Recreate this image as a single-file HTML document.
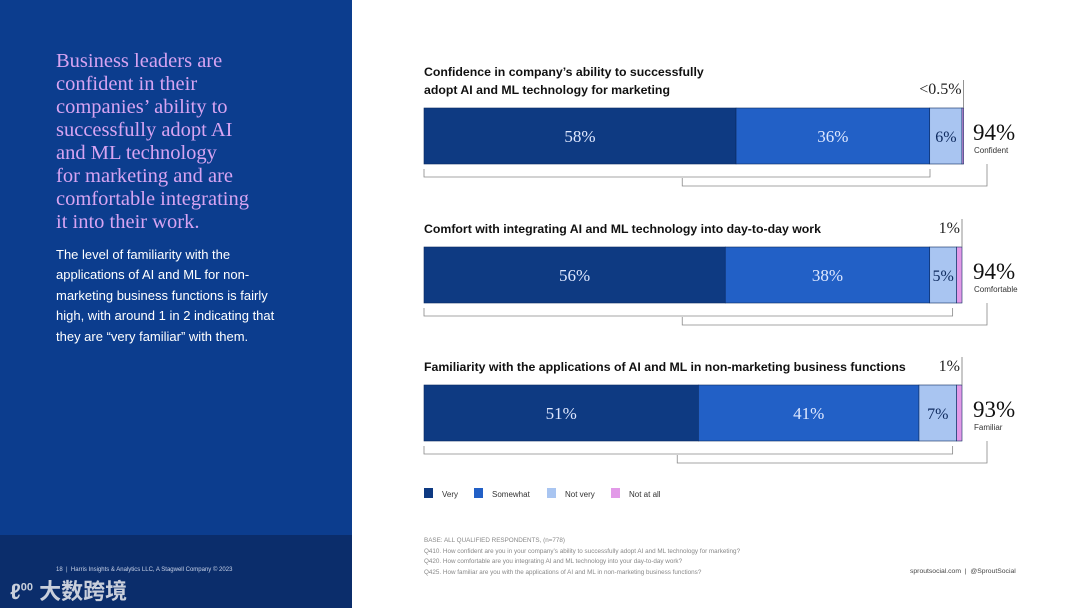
<!DOCTYPE html>
<html><head><meta charset="utf-8"><style>
body{margin:0;width:1080px;height:608px;overflow:hidden;background:#fff;font-family:"Liberation Sans","Noto Sans CJK SC",sans-serif;position:relative}
#left{position:absolute;left:0;top:0;width:352px;height:608px;background:#0c3d8e}
#leftfoot{position:absolute;left:0;top:535px;width:352px;height:73px;background:#0b2d6b}
h1{position:absolute;left:56px;top:50px;margin:0;white-space:nowrap;font:400 20.5px/23px "Liberation Serif","Noto Serif CJK SC",serif;color:#d7a4f2}
#body{position:absolute;left:56px;top:245px;white-space:nowrap;font-size:13px;line-height:20.4px;color:#fff}
#copy{position:absolute;left:56px;top:567px;font-size:6px;color:#c8d2e8}
#logo{position:absolute;left:10px;top:574px;font-size:22px;color:#c9cfdb;font-weight:bold}
svg{position:absolute;left:0;top:0}
.foot{position:absolute;font-size:6px;color:#888;line-height:10.5px;white-space:nowrap}
</style></head><body>
<div id="left"></div>
<div id="leftfoot"></div>
<h1>Business leaders are<br>confident in their<br>companies’ ability to<br>successfully adopt AI<br>and ML technology<br>for marketing and are<br>comfortable integrating<br>it into their work.</h1>
<div id="body">The level of familiarity with the<br>applications of AI and ML for non-<br>marketing business functions is fairly<br>high, with around 1 in 2 indicating that<br>they are “very familiar” with them.</div>
<div id="copy">18 &nbsp;| &nbsp;Harris Insights &amp; Analytics LLC, A Stagwell Company © 2023</div>
<div id="logo">ℓ<sup style="font-size:11px">00</sup> 大数跨境</div>
<svg id="chart" width="1080" height="608"></svg>
<div class="foot" style="left:424px;top:536px;font-size:6.3px">BASE: ALL QUALIFIED RESPONDENTS, (n=778)<br>Q410. How confident are you in your company’s ability to successfully adopt AI and ML technology for marketing?<br>Q420. How comfortable are you integrating AI and ML technology into your day-to-day work?<br>Q425. How familiar are you with the applications of AI and ML in non-marketing business functions?</div>
<div class="foot" style="left:910px;top:567px;font-size:6.8px;color:#444">sproutsocial.com &nbsp;| &nbsp;@SproutSocial</div>
<script>
const titles=[["Confidence in company’s ability to successfully","adopt AI and ML technology for marketing"],["Comfort with integrating AI and ML technology into day-to-day work"],["Familiarity with the applications of AI and ML in non-marketing business functions"]];
const veryVals=[58,56,51];
const somewhatVals=[36,38,41];
const notVeryVals=[6,5,7];
const notAtAllVals=[0.3,1,1];
const notAtAllLabels=["<0.5%","1%","1%"];
const totals=["94%","94%","93%"];
const totalLabels=["Confident","Comfortable","Familiar"];
const colors=["#0e3a82","#2260c6","#a9c5f1","#e29ae8"];
const legendNames=["Very","Somewhat","Not very","Not at all"];
const svg=document.getElementById('chart');const NS="http://www.w3.org/2000/svg";
const X0=424,W=538;const x=v=>X0+v/100*W;
const barTops=[108,247,385],BH=56;
function el(t,a,txt){const e=document.createElementNS(NS,t);for(const k in a)e.setAttribute(k,a[k]);if(txt!==undefined)e.textContent=txt;svg.appendChild(e);return e;}
veryVals.forEach((_,i)=>{
 const y=barTops[i];
 const vals=[veryVals[i],somewhatVals[i],notVeryVals[i],notAtAllVals[i]];
 titles[i].forEach((t,j)=>{const e=el('text',{x:424,y:y-(titles[i].length-j)*18+4,'font-size':12.3,'font-weight':'bold',fill:'#111'},t);
 
 });
 let c=0;
 vals.forEach((v,k)=>{const r=el('rect',{x:x(c),y:y,width:x(c+v)-x(c),height:BH,fill:colors[k],stroke:'#0a2a60','stroke-width':0.6});
 
 
 if(k<3){const t=el('text',{x:(x(c)+x(c+v))/2,y:y+BH/2+6,'text-anchor':'middle','font-size':k==2?16:17,'font-family':'Liberation Serif,serif',fill:k==2?'#0e2a5e':'#dfe8ff'},v+'%');
 
 }
 c+=v;});
 const end=x(c);
 el('line',{x1:end,y1:y-28,x2:end,y2:y,stroke:'#777','stroke-width':0.8});
 const nl=el('text',{x:end-2,y:y-14,'text-anchor':'end','font-size':16,'font-family':'Liberation Serif,serif',fill:'#222'},notAtAllLabels[i]);
 
 
 const b1=x(veryVals[i]+somewhatVals[i]+notVeryVals[i])-(i==0?32:4);
 el('path',{d:`M${X0} ${y+BH+5}V${y+BH+13}H${b1}V${y+BH+5}`,fill:'none',stroke:'#888','stroke-width':0.8});
 const b2s=X0+0.48*W-(i==2?5:0);
 el('path',{d:`M${b2s} ${y+BH+14}V${y+BH+22}H987V${y+BH}`,fill:'none',stroke:'#888','stroke-width':0.8});
 const tt=el('text',{x:973,y:y+32,'font-size':23,'font-family':'Liberation Serif,serif',fill:'#111'},totals[i]);
 
 
 const tl=el('text',{x:974,y:y+45,'font-size':8,fill:'#333'},totalLabels[i]);
 
 
});
const lx=[424,474,547,611];
legendNames.forEach((n,k)=>{const r=el('rect',{x:lx[k],y:488,width:9,height:10,fill:colors[k]});
 
 
 const t=el('text',{x:lx[k]+18,y:497,'font-size':8,fill:'#333'},n);
 
 });
</script>
</body></html>
